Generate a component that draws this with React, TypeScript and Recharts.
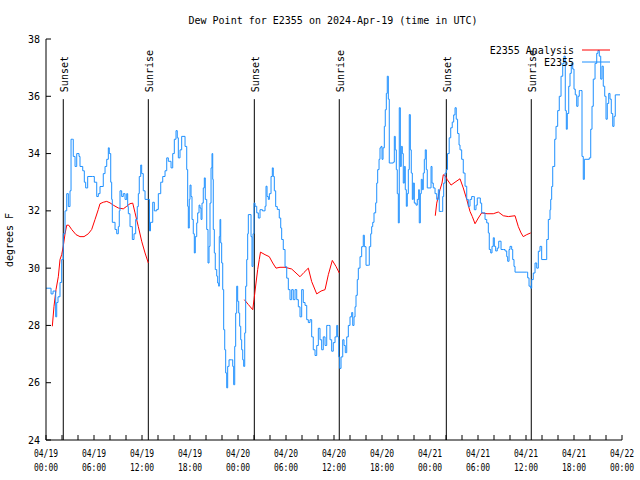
import React from 'react';
import { LineChart, Line, XAxis, YAxis, ReferenceLine } from 'recharts';

const FONT = '"DejaVu Sans Mono", "Liberation Mono", monospace';

const chartTitle = 'Dew Point for E2355 on 2024-Apr-19 (time in UTC)';
const yAxisTitle = 'degrees F';
const seriesNames = ['E2355 Analysis', 'E2355'];
const seriesColors = ['#ff0000', '#1e90ff'];

// hours since 04/19 00:00 UTC
const xTicks = [0, 2, 4, 6, 8, 10, 12, 14, 16, 18, 20, 22, 24, 26, 28, 30, 32, 34, 36, 38, 40, 42, 44, 46, 48, 50, 52, 54, 56, 58, 60, 62, 64, 66, 68, 70, 72];
const xLabelHours = [0, 6, 12, 18, 24, 30, 36, 42, 48, 54, 60, 66, 72];
const xLabelDates = ['04/19', '04/19', '04/19', '04/19', '04/20', '04/20', '04/20', '04/20', '04/21', '04/21', '04/21', '04/21', '04/22'];
const xLabelTimes = ['00:00', '06:00', '12:00', '18:00', '00:00', '06:00', '12:00', '18:00', '00:00', '06:00', '12:00', '18:00', '00:00'];
const yTicks = [24, 26, 28, 30, 32, 34, 36, 38];

const sunNames = ['Sunset', 'Sunrise', 'Sunset', 'Sunrise', 'Sunset', 'Sunrise'];
const sunHours = [2.16, 12.79, 26.04, 36.66, 50.04, 60.66];

// E2355 observations: [hour, dew point F]
const e2355Obs: [number, number][] = [
  [0, 29.3], [0.25, 29.3], [0.63, 29.1], [0.88, 29.2], [1.21, 28.3], [1.34, 28.8], [1.5, 29.0], [1.75, 29.5],
  [1.96, 30.3], [2.16, 31.2], [2.38, 32.0], [2.59, 32.6], [2.79, 32.15], [3.0, 32.7], [3.13, 34.5], [3.29, 34.5],
  [3.41, 33.9], [3.63, 33.55], [3.84, 34.0], [4.13, 33.9], [4.25, 33.55], [4.59, 33.4], [4.79, 33.0], [4.96, 32.8],
  [5.21, 33.2], [5.79, 33.2], [6.04, 33.0], [6.34, 32.5], [6.54, 32.6], [6.75, 32.85], [7.16, 33.3], [7.38, 33.55],
  [7.59, 33.8], [7.79, 34.2], [7.91, 34.0], [8.09, 33.0], [8.21, 32.4], [8.29, 31.6], [8.63, 31.35], [8.84, 31.2],
  [9.04, 31.45], [9.16, 32.0], [9.25, 32.7], [9.46, 32.5], [9.66, 32.6], [9.88, 32.4], [10.09, 32.6], [10.21, 32.15],
  [10.29, 31.9], [10.5, 31.45], [10.79, 31.0], [11.0, 31.2], [11.21, 31.7], [11.41, 32.15], [11.54, 32.6], [11.66, 33.2],
  [11.84, 33.6], [11.96, 33.3], [12.16, 32.7], [12.38, 32.4], [12.81, 32.4], [12.94, 31.3], [13.06, 31.6], [13.34, 32.3],
  [13.54, 32.0], [13.84, 32.05], [14.04, 32.6], [14.34, 33.0], [14.59, 33.2], [14.88, 33.4], [15.09, 33.85], [15.29, 33.73],
  [15.63, 33.5], [15.84, 34.0], [16.04, 34.5], [16.25, 34.8], [16.41, 34.55], [16.54, 33.85], [16.75, 34.13], [16.96, 34.6],
  [17.25, 34.6], [17.38, 34.25], [17.59, 33.44], [17.71, 32.16], [17.79, 31.4], [17.91, 32.4], [18.0, 32.9], [18.13, 32.5],
  [18.25, 31.7], [18.41, 31.2], [18.54, 30.53], [18.66, 31.1], [18.84, 31.58], [18.96, 31.93], [19.13, 32.2], [19.25, 32.1],
  [19.38, 31.7], [19.5, 32.27], [19.66, 32.8], [19.79, 33.15], [19.91, 32.4], [20.09, 31.35], [20.25, 30.18], [20.38, 30.76],
  [20.5, 32.27], [20.63, 33.5], [20.75, 34.0], [20.84, 33.1], [20.91, 31.35], [21.04, 30.53], [21.16, 29.95], [21.34, 29.72],
  [21.46, 29.48], [21.59, 29.37], [21.66, 31.1], [21.75, 31.7], [21.84, 30.88], [21.96, 30.18], [22.09, 29.25], [22.21, 27.85],
  [22.34, 27.15], [22.46, 26.34], [22.59, 25.82], [22.71, 26.57], [22.88, 26.8], [23.21, 26.8], [23.34, 26.57], [23.46, 25.93],
  [23.59, 27.27], [23.71, 28.43], [23.84, 29.37], [23.96, 28.84], [24.09, 28.43], [24.21, 27.97], [24.34, 27.5], [24.46, 27.15],
  [24.59, 26.8], [24.71, 26.57], [24.84, 27.74], [24.96, 29.37], [25.09, 30.3], [25.21, 31.2], [25.29, 31.87], [25.5, 31.87],
  [25.63, 31.1], [25.75, 30.06], [25.88, 31.2], [26.0, 32.27], [26.13, 32.16], [26.34, 31.93], [26.54, 31.75], [26.75, 32.04],
  [27.06, 32.0], [27.38, 32.16], [27.5, 32.86], [27.63, 32.5], [27.79, 32.4], [27.92, 32.6], [28.13, 33.2], [28.29, 33.5],
  [28.41, 33.2], [28.54, 32.7], [28.71, 32.15], [28.91, 32.05], [29.16, 31.75], [29.34, 31.4], [29.46, 31.0], [29.66, 30.65],
  [29.88, 30.05], [30.09, 29.65], [30.29, 29.25], [30.5, 28.9], [30.71, 29.25], [30.91, 28.9], [31.13, 29.25], [31.34, 28.9],
  [31.54, 28.65], [31.75, 28.3], [31.96, 29.25], [32.16, 28.8], [32.38, 28.7], [32.59, 28.2], [32.79, 28.1], [33.0, 28.2],
  [33.21, 27.6], [33.41, 27.15], [33.63, 26.95], [33.84, 27.3], [34.04, 27.9], [34.25, 27.5], [34.46, 27.15], [34.66, 27.6],
  [34.88, 27.3], [35.09, 28.0], [35.29, 28.0], [35.5, 27.5], [35.71, 27.1], [35.91, 27.4], [36.13, 27.6], [36.34, 28.0],
  [36.46, 27.6], [36.59, 26.9], [36.71, 26.5], [36.88, 26.9], [37.09, 27.5], [37.25, 27.3], [37.41, 27.05], [37.59, 27.6],
  [37.79, 28.0], [38.0, 28.3], [38.21, 28.45], [38.34, 28.0], [38.5, 28.3], [38.63, 28.65], [38.75, 29.05], [38.91, 29.6],
  [39.04, 30.0], [39.25, 30.4], [39.46, 30.75], [39.66, 31.15], [39.79, 30.75], [40.0, 30.1], [40.29, 30.1], [40.41, 30.75],
  [40.59, 31.2], [40.71, 31.45], [40.84, 31.6], [41.0, 31.93], [41.21, 32.28], [41.34, 32.97], [41.46, 33.44], [41.63, 33.8],
  [41.75, 34.2], [41.88, 34.25], [42.0, 33.8], [42.13, 34.2], [42.29, 34.95], [42.41, 35.53], [42.54, 36.1], [42.66, 36.7],
  [42.79, 35.9], [42.91, 33.67], [43.25, 33.67], [43.41, 33.7], [43.54, 34.6], [43.66, 34.13], [43.79, 33.44], [43.91, 32.6],
  [44.04, 31.58], [44.16, 35.6], [44.29, 33.55], [44.41, 34.25], [44.54, 34.0], [44.66, 32.97], [44.79, 33.55], [44.91, 32.74],
  [45.04, 32.16], [45.16, 32.6], [45.29, 33.44], [45.41, 35.36], [45.54, 34.13], [45.66, 33.32], [45.79, 32.4], [45.91, 32.97],
  [46.04, 32.27], [46.25, 32.2], [46.41, 32.4], [46.59, 32.74], [46.66, 31.58], [46.79, 32.6], [46.91, 33.1], [47.04, 32.74],
  [47.16, 33.32], [47.29, 33.8], [47.41, 34.13], [47.54, 33.44], [47.66, 32.8], [48.0, 32.8], [48.13, 33.55], [48.25, 32.97],
  [48.41, 32.8], [48.63, 32.6], [48.84, 32.4], [49.04, 32.74], [49.16, 31.98], [49.46, 31.98], [49.59, 32.5], [49.71, 32.97],
  [49.88, 33.32], [50.04, 33.44], [50.19, 34.0], [50.4, 34.55], [50.59, 34.9], [50.78, 35.1], [50.96, 35.35], [51.13, 35.6],
  [51.28, 35.2], [51.45, 34.7], [51.63, 34.3], [51.75, 34.13], [51.96, 33.8], [52.16, 33.32], [52.38, 32.86], [52.59, 32.4],
  [52.79, 32.16], [53.0, 32.4], [53.21, 32.5], [53.41, 32.5], [53.54, 32.04], [53.75, 32.2], [53.91, 32.45], [54.13, 32.45],
  [54.29, 32.27], [54.46, 31.93], [54.66, 31.93], [54.88, 31.7], [55.09, 31.58], [55.29, 31.23], [55.41, 30.65], [55.59, 30.53],
  [55.75, 30.76], [55.91, 31.06], [56.04, 30.76], [56.21, 30.6], [56.41, 30.7], [56.59, 30.94], [56.75, 30.94], [56.88, 30.65],
  [57.16, 30.65], [57.38, 30.6], [57.59, 30.4], [57.71, 30.24], [57.88, 30.65], [58.0, 30.76], [58.21, 30.65], [58.34, 30.3],
  [58.5, 30.06], [58.63, 29.86], [60.09, 29.86], [60.21, 29.66], [60.38, 29.37], [60.59, 29.3], [60.71, 29.6], [60.91, 29.83],
  [61.13, 30.18], [61.34, 30.0], [61.54, 30.59], [61.75, 30.76], [61.96, 30.3], [62.38, 30.3], [62.59, 31.0], [62.79, 31.7],
  [63.0, 32.04], [63.09, 32.4], [63.21, 32.85], [63.34, 33.55], [63.59, 34.5], [63.75, 34.95], [63.96, 35.5], [64.16, 36.0],
  [64.38, 36.7], [64.59, 37.15], [64.75, 37.4], [64.91, 35.5], [65.04, 34.85], [65.16, 35.4], [65.34, 36.35], [65.5, 36.8],
  [65.66, 37.15], [65.84, 36.95], [66.0, 36.25], [66.16, 36.05], [66.34, 35.65], [66.5, 36.0], [66.66, 36.2], [66.84, 36.2],
  [67.0, 33.9], [67.16, 33.1], [67.29, 33.8], [67.91, 33.85], [68.09, 34.85], [68.25, 35.65], [68.41, 36.6], [68.63, 37.15],
  [68.84, 37.5], [69.0, 37.6], [69.16, 37.4], [69.34, 36.6], [69.5, 37.05], [69.66, 36.35], [69.84, 36.0], [70.0, 35.2],
  [70.16, 35.75], [70.34, 36.1], [70.5, 35.9], [70.66, 35.4], [70.84, 34.95], [71.0, 35.3], [71.16, 36.05], [71.75, 36.05],
];

// E2355 Analysis: [hour, dew point F]; null marks a gap
const e2355Analysis: [number, number | null][] = [
  [0.79, 27.97], [1.0, 28.67], [1.25, 29.25], [1.54, 29.7], [1.75, 30.3], [1.96, 30.47], [2.16, 30.76], [2.38, 31.2],
  [2.59, 31.5], [2.84, 31.5], [3.21, 31.35], [3.75, 31.17], [4.25, 31.1], [4.75, 31.1], [5.29, 31.2], [5.71, 31.35],
  [6.13, 31.7], [6.54, 32.05], [6.75, 32.25], [7.16, 32.3], [7.59, 32.33], [8.0, 32.28], [8.41, 32.2], [9.04, 32.1],
  [9.66, 32.07], [10.09, 32.16], [10.5, 32.25], [10.84, 32.27], [11.13, 31.93], [11.54, 31.45], [11.96, 30.94], [12.38, 30.53],
  [12.79, 30.18],
  [18, null],
  [24.79, 28.9], [25.29, 28.73], [25.84, 28.55], [26.0, 28.9], [26.25, 29.48], [26.46, 29.95], [26.66, 30.3], [26.81, 30.56],
  [27.38, 30.47], [27.91, 30.4], [28.34, 30.18], [28.75, 30.0], [29.25, 30.03], [29.88, 30.03], [30.71, 29.97], [31.25, 29.83],
  [31.75, 29.7], [32.25, 29.85], [32.79, 30.0], [33.21, 29.53], [33.84, 29.1], [34.38, 29.2], [34.88, 29.25], [35.29, 29.77],
  [35.79, 30.27], [36.25, 30.06], [36.66, 29.83],
  [42, null],
  [48.66, 31.83], [48.84, 32.27], [49.04, 32.5], [49.25, 32.74], [49.5, 32.97], [49.66, 33.26], [49.88, 33.24], [50.16, 33.09],
  [50.63, 32.9], [51.13, 33.0], [51.75, 33.12], [52.16, 32.8], [52.59, 32.4], [53.0, 31.98], [53.29, 31.8], [53.63, 31.55],
  [54.04, 31.75], [54.46, 31.93], [55.13, 31.9], [55.91, 31.9], [56.54, 31.96], [57.16, 31.83], [57.79, 31.8], [58.63, 31.83],
  [59.04, 31.45], [59.38, 31.23], [59.66, 31.1], [60.09, 31.17], [60.59, 31.23],
];

const obsData = e2355Obs.map(([h, v]) => ({ h, v }));
const analysisData = e2355Analysis.map(([h, v]) => ({ h, v }));

const XTick = (props: any) => {
  const { x, y, payload } = props;
  const idx = xLabelHours.indexOf(payload.value);
  if (idx < 0) return <g />;
  return (
    <g>
      <text x={x} y={y + 12} textAnchor="middle" fontSize={10} fontFamily={FONT} fill="#000" textLength={24} lengthAdjust="spacingAndGlyphs">
        {xLabelDates[idx]}
      </text>
      <text x={x} y={y + 26} textAnchor="middle" fontSize={10} fontFamily={FONT} fill="#000" textLength={24} lengthAdjust="spacingAndGlyphs">
        {xLabelTimes[idx]}
      </text>
    </g>
  );
};

const SunLabel = (props: any) => {
  const { viewBox, text } = props;
  if (!viewBox) return null;
  const x = viewBox.x + 4.5;
  const y = viewBox.y - 7;
  return (
    <text x={x} y={y} transform={`rotate(-90 ${x} ${y})`} fontSize={10} fontFamily={FONT} fill="#000" textAnchor="start">
      {text}
    </text>
  );
};

export default function App() {
  return (
    <div style={{ position: 'absolute', left: 0, top: 0, width: 640, height: 480, background: '#fff' }}>
      <LineChart width={640} height={480} margin={{ top: 39, right: 18, bottom: 0, left: 6 }}>
        <XAxis
          xAxisId="b"
          dataKey="h"
          type="number"
          domain={[0, 72]}
          ticks={xTicks}
          interval={0}
          allowDataOverflow
          height={40}
          tickSize={-5}
          tickMargin={10}
          tick={<XTick />}
          axisLine={{ stroke: '#000' }}
          tickLine={{ stroke: '#000' }}
        />
        <XAxis
          xAxisId="t"
          orientation="top"
          dataKey="h"
          type="number"
          domain={[0, 72]}
          ticks={xTicks}
          interval={0}
          allowDataOverflow
          height={0}
          tickSize={-5}
          tick={false}
          axisLine={{ stroke: '#000' }}
          tickLine={{ stroke: '#000' }}
        />
        <YAxis
          yAxisId="l"
          type="number"
          domain={[24, 38]}
          ticks={yTicks}
          interval={0}
          allowDataOverflow
          width={40}
          tickSize={-5}
          tickMargin={11}
          tick={{ fill: '#000', fontSize: 10, fontFamily: FONT }}
          axisLine={{ stroke: '#000' }}
          tickLine={{ stroke: '#000' }}
        />
        <YAxis
          yAxisId="r"
          orientation="right"
          type="number"
          domain={[24, 38]}
          ticks={yTicks}
          interval={0}
          allowDataOverflow
          width={0}
          tickSize={-5}
          tick={false}
          axisLine={{ stroke: '#000' }}
          tickLine={{ stroke: '#000' }}
        />
        {sunHours.map((h, i) => (
          <ReferenceLine
            key={'sun' + i}
            xAxisId="b"
            yAxisId="l"
            segment={[{ x: h, y: 35.9 }, { x: h, y: 24 }]}
            stroke="#000"
            strokeWidth={1}
            label={<SunLabel text={sunNames[i]} />}
          />
        ))}
        <Line
          xAxisId="b"
          yAxisId="l"
          data={analysisData}
          dataKey="v"
          name={seriesNames[0]}
          type="linear"
          stroke={seriesColors[0]}
          strokeWidth={1}
          dot={false}
          activeDot={false}
          connectNulls={false}
          isAnimationActive={false}
        />
        <Line
          xAxisId="b"
          yAxisId="l"
          data={obsData}
          dataKey="v"
          name={seriesNames[1]}
          type="stepAfter"
          stroke={seriesColors[1]}
          strokeWidth={1}
          dot={false}
          activeDot={false}
          isAnimationActive={false}
        />
      </LineChart>
      <svg width={640} height={480} style={{ position: 'absolute', left: 0, top: 0, pointerEvents: 'none' }}>
        <text x={333} y={24} textAnchor="middle" fontSize={10} fontFamily={FONT} fill="#000">
          {chartTitle}
        </text>
        <text x={13} y={240} textAnchor="middle" transform="rotate(-90 13 240)" fontSize={10} fontFamily={FONT} fill="#000">
          {yAxisTitle}
        </text>
        {seriesNames.map((n, i) => (
          <g key={n}>
            <text x={574} y={54 + 12 * i} textAnchor="end" fontSize={10} fontFamily={FONT} fill="#000">
              {n}
            </text>
            <line x1={582} x2={610} y1={50 + 12 * i} y2={50 + 12 * i} stroke={seriesColors[i]} strokeWidth={1} />
          </g>
        ))}
      </svg>
    </div>
  );
}
